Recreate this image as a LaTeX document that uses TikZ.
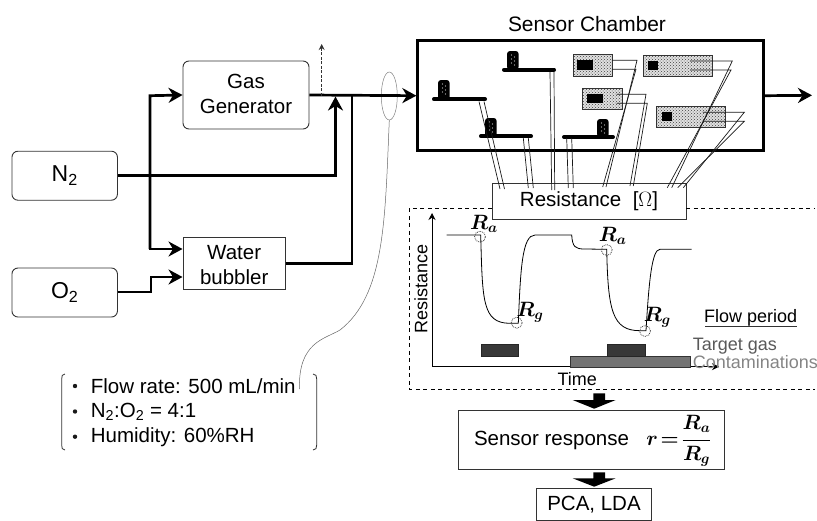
\documentclass[tikz,border=0pt]{standalone}
\usepackage{fontspec}
\setmainfont{Liberation Sans}
\usetikzlibrary{arrows.meta,shapes.geometric,patterns}
\newcommand{\txtsize}{\fontsize{20.5}{25}\selectfont}
\newcommand{\smalltxt}{\fontsize{18}{22}\selectfont}
\newcommand{\bigtxt}{\fontsize{23}{27}\selectfont}
\newcommand{\bmath}[1]{{\fontsize{20.74}{24}\selectfont\boldmath$#1$}}
\newcommand{\twolines}[3]{\raisebox{#1}[0pt][0pt]{\begin{tabular}{@{}c@{}}#2\\#3\end{tabular}}}
\tikzset{
  x=1pt,y=-1pt,
  every node/.style={font=\txtsize,inner sep=0pt,text=black},
  gasbox/.style={draw=black!80,line width=0.9pt,rounded corners=6pt,align=center},
  plainbox/.style={draw=black!80,line width=0.9pt,fill=white,align=center},
  pipe/.style={line width=2.7pt,black},
  pipearrow/.style={pipe,-{Stealth[length=14pt,width=15pt,inset=4.5pt]}},
  wire/.style={line width=0.7pt,black!90},
  bar/.style={line width=4pt,line cap=round,black},
  bump/.style={rounded corners=3pt,fill=black},
  chip/.style={draw=black!80,line width=0.7pt,preaction={fill=black!12},pattern=crosshatch dots,pattern color=black!75},
  spot/.style={draw=black!75,densely dotted,line width=0.8pt,circle,minimum size=11pt},
  frameline/.style={line width=0.8pt,dash pattern=on 4pt off 3.5pt,black},
  blockarrow/.style={fill=black,draw=none},
  grayname/.style={anchor=west,font=\smalltxt}
}
\begin{document}
\begin{tikzpicture}
\useasboundingbox (0,0) rectangle (817,520);

% Left gas line
\node[gasbox,minimum width=126pt,minimum height=68pt] (gen) at (246,95) {\twolines{-6pt}{Gas}{Generator}};
\node[gasbox,minimum width=105.5pt,minimum height=49pt,font=\bigtxt] (n2) at (64.7,175.7) {N\textsubscript{2}};
\node[gasbox,minimum width=105.5pt,minimum height=49pt,font=\bigtxt] (o2) at (64.7,292.5) {O\textsubscript{2}};
\node[plainbox,minimum width=102.5pt,minimum height=52pt] (bub) at (234.2,263) {\twolines{-9.5pt}{Water}{bubbler}};
\node[draw=black!50,line width=0.5pt,ellipse,minimum width=16pt,minimum height=48pt] (probe) at (389.3,96) {};

% Sensor chamber
\node[draw=black,line width=2.8pt,minimum width=345.5pt,minimum height=110pt] (chamber) at (590.5,95.7) {};
\node[font=\fontsize{20.9}{25}\selectfont] (chtitle) at (587,24) {Sensor Chamber};
\node[plainbox,minimum width=194pt,minimum height=36pt] (res) at (589,201) {Resistance\ \ [$\Omega$]};

\coordinate (n2up) at (335.5,175.7);
\coordinate (bubup) at (352,263.7);
\coordinate (vent) at (321.7,95.7);
\coordinate (venttop) at (321.7,44);
\coordinate (o2a) at (151,292);
\coordinate (o2b) at (151,277);
\coordinate (out) at (812,95.3);

\draw[pipearrow] (gen.east) -- (chamber.west);
\draw[pipearrow] (n2.east) -- (n2up) -- (335.5,96.5);
\draw[pipe] (bub.east |- bubup) -- (bubup) -- (352,95.7);
\draw[pipearrow] (150,249) -- (150,95.7) -- (gen.west);
\draw[pipearrow] (150,95.7) -- (150,249) -- (bub.west |- 0,249);
\draw[pipearrow] (117.5,292) -- (o2a) -- (o2b) -- (bub.west |- o2b);
\draw[pipearrow] (chamber.east) -- (out);
\draw[line width=0.9pt,dash pattern=on 3pt off 1.5pt,black!80,-{Stealth[length=6pt,width=6pt]}] (vent) -- (venttop);

% sensor bars
\foreach \nm/\xa/\xb/\yb/\bx/\by in {a/434/485/99.3/438/80,b/504/554/69.7/507/51,c/481/531/136.3/485/118,d/564/613/137/597/119}{
  \draw[bar] (\xa,\yb) -- (\xb,\yb);
  \path[bump] (\bx,\yb) rectangle (\bx+11.7,\by);
  \foreach \dx/\dy in {4.5/4,7.5/6,4.5/8,7.5/10,4.5/12,7.5/14}{
    \fill[white!80!black] (\bx+\dx,\by+\dy) circle (0.6pt);
  }
}
% chips
\foreach \xa/\xb/\ya/\yb/\pa/\pb/\qa/\qb in {
 573/612.3/54.7/76.3/576.7/593.3/60/70,
 582.7/622.7/88.3/109.3/586.7/603.3/94.3/103.3,
 643/712.7/55.3/76/648.3/658.3/61/70,
 656/725.3/106.7/127.3/661.7/671.7/111.7/121}{
  \path[chip] (\xa,\ya) rectangle (\xb,\yb);
  \fill[black] (\pa,\qa) rectangle (\pb,\qb);
}
% wires
\draw[wire] (479,101.5) -- (500,189);
\draw[wire] (484,101.5) -- (504.5,189);
\draw[wire] (523.3,138) -- (528.3,188);
\draw[wire] (528.3,138) -- (533.3,188);
\draw[wire] (550,72) -- (551.7,190);
\draw[wire] (554,72) -- (554.7,190);
\draw[wire] (566.7,138) -- (568.3,188);
\draw[wire] (571.7,138) -- (573.3,188);
\draw[wire] (612,60.3) -- (637,60.3) -- (606,187);
\draw[wire] (612,69.3) -- (636,69.3) -- (602.7,187);
\draw[wire] (616.7,94.3) -- (646,94.3) -- (630,186);
\draw[wire] (616.7,103.3) -- (647.3,103.3) -- (633.3,186);
\draw[wire] (690,61) -- (732.3,61) -- (671.7,187.7);
\draw[wire] (690,70) -- (731,70) -- (667.3,187.7);
\draw[wire] (703,112.3) -- (744.3,112.3) -- (683.3,187.7);
\draw[wire] (703,121.3) -- (744.3,121.3) -- (677.7,187.7);

% dashed frame
\coordinate (fa) at (815,208);
\coordinate (fb) at (409.5,208);
\coordinate (fc) at (409.5,389.5);
\coordinate (fd) at (815,389.5);
\draw[frameline] (res.east |- fa) -- (fa);
\draw[frameline] (res.west |- fb) -- (fb) -- (fc) -- (fd);

% axes
\coordinate (origin) at (432,366.7);
\coordinate (ytop) at (432,213);
\coordinate (xend) at (719,366.7);
\draw[line width=0.9pt,black,-{Stealth[length=7pt,width=7pt]}] (origin) -- (ytop);
\draw[line width=0.9pt,black,-{Stealth[length=7pt,width=7pt]}] (origin) -- (xend);
\node[rotate=90,font=\smalltxt] (ylab) at (421,289.3) {Resistance};
\node[font=\smalltxt] (xlab) at (577.3,379) {Time};

% bars
\fill[black!55,draw=black!80,line width=0.6pt] (570.3,356) rectangle (690.7,367);
\fill[black!78,draw=black!85,line width=0.6pt] (481,344.3) rectangle (518.3,356);
\fill[black!78,draw=black!85,line width=0.6pt] (607.3,344.3) rectangle (645,356);

% curve
\draw[line width=0.8pt,black] (446.7,235) -- (480.7,235)
  .. controls (482.5,300) and (482,323.3) .. (510,323.3)
  -- (518.3,323.3)
  .. controls (520.5,270) and (522,235) .. (535,235)
  -- (571.7,235)
  .. controls (572.5,247) and (575,249) .. (585,249)
  -- (606.7,249.3)
  .. controls (608,310) and (612,330.7) .. (640,330.7)
  -- (646,330.7)
  .. controls (649,280) and (652,249.3) .. (660,249.3)
  -- (691.7,249.3);

\node[spot] (s1) at (480,236.7) {};
\node[spot] (s2) at (516.7,322.7) {};
\node[spot] (s3) at (606.7,250) {};
\node[spot] (s4) at (645,331) {};

\node (ra1) at (484,224) {\bmath{R_a}};
\node (rg1) at (530,312) {\bmath{R_g}};
\node (ra2) at (612.7,236) {\bmath{R_a}};
\node (rg2) at (657.3,317) {\bmath{R_g}};

\node[font=\smalltxt] (flow) at (750.7,318) {Flow period};
\draw[line width=0.9pt,black!80] (705,326.5) -- (797,326.5);
\node[grayname,text=black!65] (tgt) at (692.7,345.7) {Target gas};
\node[grayname,text=black!48] (cont) at (692.7,362) {Contaminations};

% bottom
\node[plainbox,minimum width=266pt,minimum height=58.6pt] (sr) at (591.3,440) {};
\node (srt) at (551.5,440) {Sensor response};
\node (srf) at (679,441) {\bmath{r\!=\!\displaystyle\frac{R_a}{R_g}}};
\node[plainbox,minimum width=115.4pt,minimum height=32pt] (pca) at (594,504.7) {PCA, LDA};
\fill[blockarrow] (593.3,393.3) -- (605,393.3) -- (605,400) -- (615.7,400) -- (594.2,408.7) -- (572.7,400) -- (593.3,400) -- cycle;
\fill[blockarrow] (593.3,472.3) -- (605,472.3) -- (605,478.3) -- (615.7,478.3) -- (594.2,486.7) -- (572.7,478.3) -- (593.3,478.3) -- cycle;

% conditions
\node[anchor=west] (c1) at (90.7,386) {Flow rate: 500 mL/min};
\node[anchor=west] (c2) at (90.7,411.5) {N\textsubscript{2}:O\textsubscript{2} = 4:1};
\node[anchor=west] (c3) at (90.7,436.7) {Humidity: 60\%RH};
\foreach \yy in {386,411.5,436.7}{\fill[black!90] (75,\yy) circle (2.2pt);}
\draw[line width=0.8pt,black!80] (65,374) .. controls (62,374) and (61.7,376) .. (61.7,379) -- (61.7,445) .. controls (61.7,448) and (62,450) .. (65,450);
\draw[line width=0.8pt,black!80] (313,374) .. controls (316,374) and (316.7,376) .. (316.7,379) -- (316.7,445) .. controls (316.7,448) and (316,450) .. (313,450);
\coordinate (condtop) at (299.5,389);
\coordinate (condmid) at (340,330);
\draw[line width=0.5pt,black!60] (probe.south) .. controls (385,220) and (385,295) .. (condmid) .. controls (325,339) and (298,342) .. (condtop);
\end{tikzpicture}
\end{document}
